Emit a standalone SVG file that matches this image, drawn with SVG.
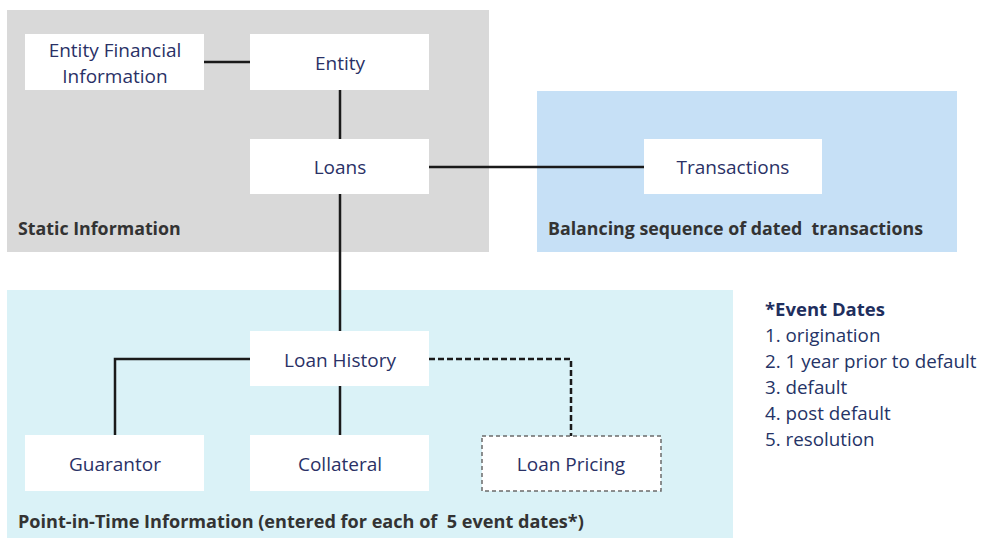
<svg xmlns="http://www.w3.org/2000/svg" width="981" height="538" viewBox="0 0 981 538">
<style>
.box{fill:#ffffff;}
.dbox{fill:#ffffff;stroke:#6b6b6b;stroke-width:1.5;stroke-dasharray:4 3;}
.t{font-family:"Open Sans","Noto Sans",sans-serif;font-size:19px;fill:#2a3166;text-anchor:middle;}
.lbl{font-family:"Open Sans","Noto Sans",sans-serif;font-size:17.8px;font-weight:bold;fill:#333333;white-space:pre;}
.ev{font-family:"Open Sans","Noto Sans",sans-serif;font-size:18.8px;fill:#253366;}
.evh{font-family:"Open Sans","Noto Sans",sans-serif;font-size:18.5px;font-weight:bold;fill:#1f2f5e;}
.c{fill:none;stroke:#1a1a1a;stroke-width:2.5;}
.cd{fill:none;stroke:#1a1a1a;stroke-width:2.5;stroke-dasharray:6 3;}
</style>
<rect width="981" height="538" fill="#ffffff"/>
<g id="region-static">
<rect x="7" y="10" width="482" height="242" fill="#d9d9d9"/>
<text class="lbl" x="18" y="235">Static Information</text>
</g>
<g id="region-balancing">
<rect x="537" y="91" width="420" height="161" fill="#c6e0f6"/>
<text class="lbl" x="548" y="235">Balancing sequence of dated  transactions</text>
</g>
<g id="region-pit">
<rect x="7" y="290" width="726" height="248" fill="#daf2f7"/>
<text class="lbl" x="18" y="528" style="font-size:18.1px">Point-in-Time Information (entered for each of  5 event dates*)</text>
</g>
<g id="connectors">
<line class="c" x1="204" y1="62" x2="250" y2="62"/>
<line class="c" x1="340" y1="90" x2="340" y2="139"/>
<line class="c" x1="429" y1="167" x2="644" y2="167"/>
<line class="c" x1="340" y1="194" x2="340" y2="331"/>
<polyline class="c" points="250,359 115,359 115,435"/>
<line class="c" x1="340" y1="386" x2="340" y2="435"/>
<polyline class="cd" points="429,359 571,359 571,436"/>
</g>
<g id="node-efi">
<rect class="box" x="25" y="34" width="179" height="56"/>
<text class="t" x="115" y="57">Entity Financial</text>
<text class="t" x="115" y="83">Information</text>
</g>
<g id="node-entity">
<rect class="box" x="250" y="34" width="179" height="56"/>
<text class="t" x="340" y="70">Entity</text>
</g>
<g id="node-loans">
<rect class="box" x="250" y="139" width="179" height="55"/>
<text class="t" x="340" y="174">Loans</text>
</g>
<g id="node-transactions">
<rect class="box" x="644" y="139" width="178" height="55"/>
<text class="t" x="733" y="174">Transactions</text>
</g>
<g id="node-loan-history">
<rect class="box" x="250" y="331" width="179" height="55"/>
<text class="t" x="340" y="367">Loan History</text>
</g>
<g id="node-guarantor">
<rect class="box" x="25" y="435" width="179" height="56"/>
<text class="t" x="115" y="471">Guarantor</text>
</g>
<g id="node-collateral">
<rect class="box" x="250" y="435" width="179" height="56"/>
<text class="t" x="340" y="471">Collateral</text>
</g>
<g id="node-loan-pricing">
<rect class="dbox" x="482" y="436" width="179" height="55"/>
<text class="t" x="571" y="471">Loan Pricing</text>
</g>
<g id="event-dates">
<text class="evh" x="765" y="316">*Event Dates</text>
<text class="ev" x="765" y="342">1. origination</text>
<text class="ev" x="765" y="368">2. 1 year prior to default</text>
<text class="ev" x="765" y="394">3. default</text>
<text class="ev" x="765" y="420">4. post default</text>
<text class="ev" x="765" y="446">5. resolution</text>
</g>
</svg>
